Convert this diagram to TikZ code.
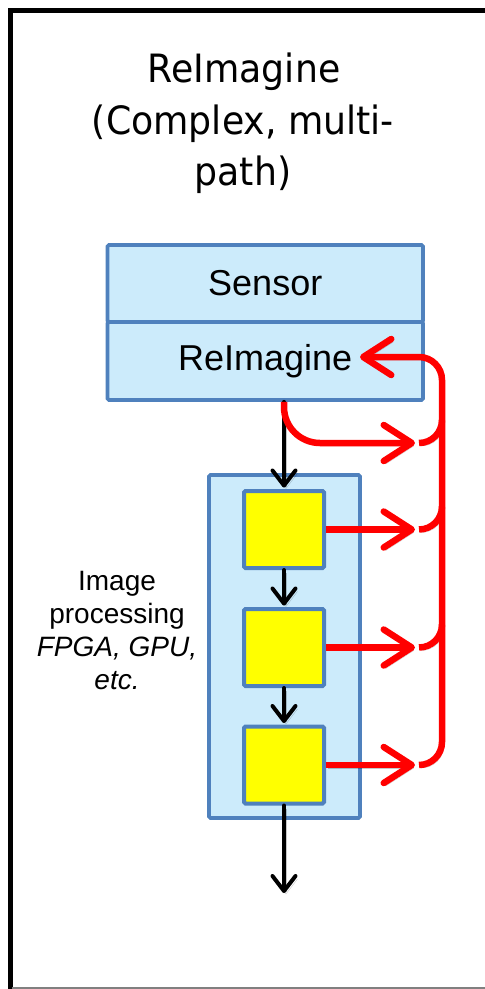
\documentclass[tikz,border=0pt]{standalone}
\usepackage{fontspec}
\setmainfont{Liberation Sans}
\newfontfamily\titlefont[FakeStretch=0.93]{DejaVu Sans}
\usetikzlibrary{arrows.meta}
\definecolor{boxblue}{HTML}{4F81BD}
\definecolor{boxfill}{HTML}{CCEBFB}
\definecolor{rdcol}{HTML}{FF0000}
\definecolor{ybright}{HTML}{FFFF00}
\begin{document}
\begin{tikzpicture}[x=1pt,y=1pt,
  bluebox/.style={draw=boxblue, fill=boxfill, line width=3.8pt, rounded corners=1.5pt, inner sep=0pt},
  ybox/.style={draw=boxblue, fill=ybright, line width=4pt, rounded corners=1.5pt, minimum width=80pt, minimum height=77pt, inner sep=0pt},
  shadowed/.style={preaction={draw=black, draw opacity=0.22, transform canvas={shift={(2pt,-3pt)}}}},
  blk/.style={draw=black, line width=4pt, line cap=round, -{Straight Barb[length=15pt,width=23pt,round]}, shadowed},
  rdl/.style={draw=rdcol, line width=6.5pt, shadowed},
  rda/.style={rdl, -{Straight Barb[length=28pt,width=36pt,round]}},
  tfont/.style={font=\titlefont\fontsize{39}{51}\selectfont, inner sep=0pt},
  bfont/.style={font=\fontsize{36}{40}\selectfont},
]
\useasboundingbox (0,0) rectangle (485,-989);
% outer frame
\draw[line width=4.5pt] (10.5,-989) -- (10.5,-10.5) -- (490,-10.5);
\draw[black!50, line width=1.5pt] (12,-988) -- (485,-988);

% title
\node[tfont, anchor=base] (t1) at (244,-82) {ReImagine};
\node[tfont, anchor=base] (t2) at (243,-134) {(Complex, multi-};
\node[tfont, anchor=base] (t3) at (243,-185) {path)};

% sensor stack
\node[bluebox, bfont, minimum width=315.5pt, minimum height=77pt] (sensor) at (265.25,-283.5) {Sensor};
\node[bluebox, bfont, minimum width=315.5pt, minimum height=78pt] (reim) at (265.25,-361) {ReImagine};

% processing container
\node[bluebox, minimum width=151pt, minimum height=343pt] (proc) at (284.5,-646.5) {};
\node[ybox] (y1) at (284,-529.5) {};
\node[ybox] (y2) at (284,-647.5) {};
\node[ybox] (y3) at (284,-765) {};

\node[font=\fontsize{28}{33}\selectfont, align=center, inner sep=0pt] (lab) at (117,-630)
  {Image\\processing\\\textit{FPGA, GPU,}\\\textit{etc.}};

% coordinates
\coordinate (bstart) at (reim.south -| y1.north);
\coordinate (out) at (284,-893);
\coordinate (a0) at (415,-443);
\coordinate (j0) at (419,-443);
\coordinate (bustop) at (442,-380);
\coordinate (fbin) at (360,-357);

% black flow
\draw[blk, shorten >=1.5pt] (bstart) -- (y1.north);
\draw[blk, shorten >=1.5pt] (y1.south) -- (y2.north);
\draw[blk, shorten >=1.5pt] (y2.south) -- (y3.north);
\draw[blk] (y3.south) -- (out);

% red taps
\draw[rda, rounded corners=36pt] (bstart) |- (a0);
\draw[rda] (y1.east) -- (y1.east -| a0);
\draw[rda] (y2.east) -- (y2.east -| a0);
\draw[rda] (y3.east) -- (y3.east -| a0);

% red bus
\draw[rdl] (j0) arc[start angle=-90, end angle=0, radius=23pt];
\draw[rdl] (y1.east -| j0) arc[start angle=-90, end angle=0, radius=23pt];
\draw[rdl] (y2.east -| j0) arc[start angle=-90, end angle=0, radius=23pt];
\draw[rda] (y3.east -| j0) arc[start angle=-90, end angle=0, radius=23pt]
   -- (bustop) arc[start angle=0, end angle=90, radius=23pt] -- (fbin);
\end{tikzpicture}
\end{document}
